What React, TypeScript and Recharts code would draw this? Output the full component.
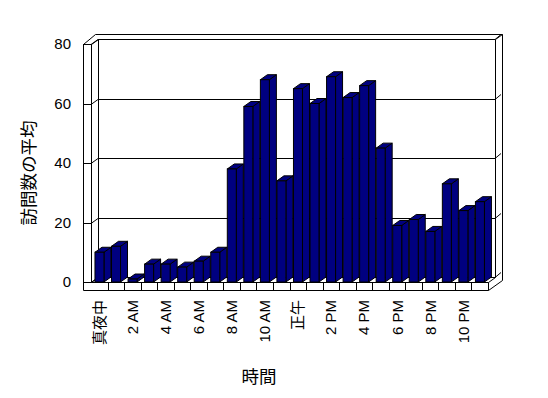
import { Bar, BarChart, CartesianGrid, XAxis, YAxis } from "recharts";

const HOURS = [
  "真夜中", "1 AM", "2 AM", "3 AM", "4 AM", "5 AM", "6 AM", "7 AM", "8 AM", "9 AM", "10 AM", "11 AM",
  "正午", "1 PM", "2 PM", "3 PM", "4 PM", "5 PM", "6 PM", "7 PM", "8 PM", "9 PM", "10 PM", "11 PM",
];
const VISITS = [10, 12, 1, 6, 6, 5, 7, 10, 38, 59, 68, 34, 65, 60, 69, 62, 66, 45, 19, 21, 17, 33, 24, 27];
const Y_TICKS = [0, 20, 40, 60, 80];
const Y_TITLE = "訪問数の平均";
const X_TITLE = "時間";

const W = 548;
const H = 398;
// front plane of the plot area, matches margins + axis sizes below
const PL = 91;
const PR = 488;
const PT = 44;
const PB = 282;
// receding depth of the 3d box
const DX = 7;
const DY = 5;
const FONT = "'Liberation Sans', 'Noto Sans CJK JP', sans-serif";
const NAVY = "#000080";

const data = HOURS.map((hour, i) => ({ hour, visits: VISITS[i] }));

function Bar3D(props: any) {
  const { x, y, width, height } = props;
  if (height == null || width == null) return null;
  return (
    <g stroke="#000" strokeWidth={1} fill={NAVY} strokeLinejoin="miter">
      <path d={`M${x + width},${y} l${DX},${-DY} v${height} l${-DX},${DY} Z`} />
      <path d={`M${x},${y} l${DX},${-DY} h${width} l${-DX},${DY} Z`} />
      <rect x={x} y={y} width={width} height={height} />
    </g>
  );
}

function GridLine3D(props: any) {
  const { x1, x2, y1 } = props;
  const y = Math.round(y1) + 0.5;
  return (
    <path
      d={`M${x1 - 8},${y} H${x1} l${DX},${-DY} H${x2 + DX} l${DX - 1},${-DY}`}
      stroke="#000"
      strokeWidth={1}
      fill="none"
    />
  );
}

function HourTick({ x, y, payload }: any) {
  return (
    <text
      x={x}
      y={y}
      transform={`rotate(-90 ${x} ${y})`}
      textAnchor="end"
      dominantBaseline="central"
      fontSize={15}
      fontFamily={FONT}
      fill="#000"
    >
      {payload.value}
    </text>
  );
}

function Frame3D() {
  const step = (PR - PL) / HOURS.length;
  const dividers = HOURS.map((_, i) => Math.round(PL + (i + 1) * step) + 0.5);
  return (
    <svg width={W} height={H} style={{ position: "absolute", left: 0, top: 0 }}>
      <g stroke="#000" strokeWidth={1} fill="none">
        {/* left wall */}
        <path d={`M83.5,${PT + 0.5} V290.5 H${PR + 0.5}`} />
        <path d={`M${PL + 0.5},${PT + 0.5} V${PB + 0.5}`} />
        <path d={`M83.5,${PT + 0.5} H${PL + 0.5} l${DX},${-DY} V${PB - DY}`} />
        <path d={`M${PL + 0.5},${PB + 0.5} l${DX},${-DY}`} />
        {/* back wall top edge */}
        <path d={`M83.5,${PT + 0.5} L95.5,${PT - 2 * DY + 0.5} H502.5 V${PB - 1.5}`} />
        <path d={`M${PR + DX + 0.5},${PT - DY + 0.5} l${DX},${-DY}`} />
        <path d={`M${PR + DX + 0.5},${PT - DY + 0.5} V${PB - DY + 0.5}`} />
        {/* floor */}
        <path d={`M${PL + 0.5},${PB + 0.5} H${PR + 0.5} l${DX},${-DY}`} />
        <path d={`M${PR + 0.5},290.5 L502.5,${PB - 1.5}`} />
        {dividers.map((x) => (
          <path key={x} d={`M${x},${PB + 0.5} V290.5`} />
        ))}
      </g>
      <text
        x={28.5}
        y={173}
        transform="rotate(-90 28.5 173)"
        textAnchor="middle"
        dominantBaseline="central"
        fontSize={17.5}
        fontFamily={FONT}
        fill="#000"
      >
        {Y_TITLE}
      </text>
      <text
        x={259}
        y={377}
        textAnchor="middle"
        dominantBaseline="central"
        fontSize={17.5}
        fontFamily={FONT}
        fill="#000"
      >
        {X_TITLE}
      </text>
    </svg>
  );
}

export default function App() {
  return (
    <div style={{ position: "absolute", left: 0, top: 0, width: W, height: H, background: "#fff" }}>
      <Frame3D />
      <div style={{ position: "absolute", left: 0, top: 0 }}>
        <BarChart
          width={W}
          height={H}
          data={data}
          margin={{ top: PT, right: W - PR, bottom: 46, left: PL - 60 }}
          barCategoryGap="24%"
        >
          <CartesianGrid vertical={false} horizontal={(p: any) => <GridLine3D {...p} />} />
          <XAxis
            dataKey="hour"
            height={70}
            interval={1}
            axisLine={false}
            tickLine={false}
            tickMargin={12}
            tick={<HourTick />}
          />
          <YAxis
            width={60}
            domain={[0, 80]}
            ticks={Y_TICKS}
            axisLine={false}
            tickLine={false}
            tickMargin={14}
            tick={{ fill: "#000", fontSize: 15, fontFamily: FONT }}
          />
          <Bar dataKey="visits" shape={(p: any) => <Bar3D {...p} />} isAnimationActive={false} />
        </BarChart>
      </div>
    </div>
  );
}
